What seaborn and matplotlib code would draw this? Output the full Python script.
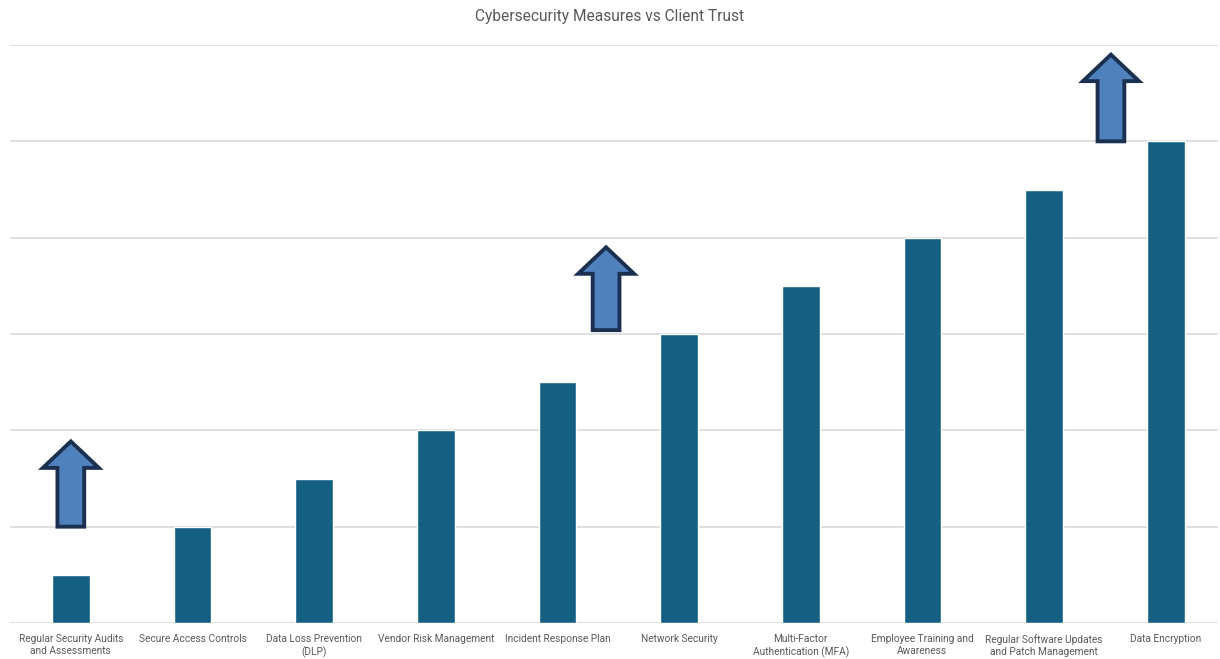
import matplotlib
matplotlib.use("Agg")
import matplotlib.pyplot as plt
import seaborn as sns
import pandas as pd
from matplotlib.patches import FancyArrow

categories = [
    "Regular Security Audits\nand Assessments",
    "Secure Access Controls",
    "Data Loss Prevention\n(DLP)",
    "Vendor Risk Management",
    "Incident Response Plan",
    "Network Security",
    "Multi-Factor\nAuthentication (MFA)",
    "Employee Training and\nAwareness",
    "Regular Software Updates\nand Patch Management",
    "Data Encryption",
]
values = [1, 2, 3, 4, 5, 6, 7, 8, 9, 10]

# Up-arrow annotations: x position (category index), base y, tip y
arrow_x = [0.0, 4.4, 8.55]
arrow_base = [2.0, 6.08, 10.0]
arrow_tip = [3.77, 7.8, 11.8]

sns.set_theme(style="white")
plt.rcParams["font.family"] = ["Roboto", "DejaVu Sans"]

df = pd.DataFrame({"cat": categories, "val": values})

fig = plt.figure(figsize=(12.2, 6.59), dpi=100)
ax = fig.add_axes([10 / 1220, 36 / 659, 1208 / 1220, 578 / 659])

sns.barplot(data=df, x="cat", y="val", color="#156082", width=0.31,
            saturation=1, ax=ax, zorder=3)

ax.set_ylim(0, 12)
ax.set_xlim(-0.5, 9.43)
ax.set_yticks(range(0, 13, 2))
ax.yaxis.grid(True, color="#d9d9d9", linewidth=1.2, zorder=0)
ax.set_axisbelow(True)
ax.tick_params(axis="y", left=False, labelleft=False)
ax.tick_params(axis="x", bottom=False, pad=2, labelsize=7.3, labelcolor="#595959")
for lbl in ax.get_xticklabels():
    lbl.set_linespacing(1.25)
ax.set_xlabel("")
ax.set_ylabel("")
for s in ax.spines.values():
    s.set_visible(False)

for x, b, t in zip(arrow_x, arrow_base, arrow_tip):
    arr = FancyArrow(x, b, 0, t - b, width=0.22, head_width=0.46,
                     head_length=0.55, length_includes_head=True,
                     facecolor="#4f81bd", edgecolor="#1b3050", linewidth=2.8,
                     joinstyle="miter", zorder=5)
    ax.add_patch(arr)

fig.text(0.5, 1 - 17 / 659, "Cybersecurity Measures vs Client Trust",
         ha="center", va="center", fontsize=11.2, color="#595959")

fig.savefig("out.png", dpi=100, facecolor="white")
